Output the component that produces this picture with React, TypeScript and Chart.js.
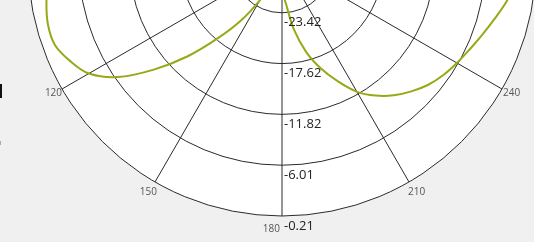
import React, { useEffect, useRef } from "react";
import { Chart, registerables } from "chart.js";

Chart.register(...registerables);

// Pattern sampled every 5 degrees (0..355), values in dB
const angles: number[] = [
  0, 5, 10, 15, 20, 25, 30, 35, 40, 45, 50, 55, 60, 65, 70, 75, 80, 85,
  90, 95, 100, 105, 110, 115, 120, 125, 130, 135, 140, 145, 150, 155, 160, 165, 170, 175,
  180, 185, 190, 195, 200, 205, 210, 215, 220, 225, 230, 235, 240, 245, 250, 255, 260, 265,
  270, 275, 280, 285, 290, 295, 300, 305, 310, 315, 320, 325, 330, 335, 340, 345, 350, 355,
];
const gainDb: number[] = [
  -10.0, -9.0, -9.5, -11.0, -14.0, -18.0, -22.0, -19.0, -14.0, -10.0, -7.5, -6.0, -5.2, -5.5, -7.0, -9.0, -8.0, -5.0,
  -3.2, -2.4, -1.9, -1.55, -1.6, -2.5, -3.75, -6.3, -10.1, -14.0, -17.9, -21.1, -24.2, -26.6, -28.4, -29.22, -28.7, -27.4,
  -26.0, -24.6, -21.4, -18.6, -16.3, -14.2, -12.1, -10.6, -9.35, -8.32, -7.41, -6.72, -6.15, -5.58, -4.89, -4.09, -3.18, -2.4,
  -1.8, -1.2, -0.7, -0.4, -0.21, -0.3, -0.7, -1.5, -2.8, -4.5, -7.0, -10.0, -14.0, -18.0, -21.0, -19.0, -15.0, -12.0,
];
const radialTicks: number[] = [-29.22, -23.42, -17.62, -11.82, -6.01, -0.21];
const tickLabels: string[] = ["-29.22", "-23.42", "-17.62", "-11.82", "-6.01", "-0.21"];
const angleLabelStep = 30;

// Chart.js radar goes clockwise from top; this chart goes counter-clockwise.
const chartAngles: number[] = angles.map((_, i) => (360 - angles[i]) % 360);
const chartValues: number[] = chartAngles.map((a) => gainDb[angles.indexOf(a)]);

const labelPlugin = {
  id: "polarLabels",
  afterDraw(chart: any) {
    const s = chart.scales.r;
    const ctx = chart.ctx;
    ctx.save();
    // radial tick labels along the 180 spoke
    ctx.font = '13px "Open Sans"';
    ctx.fillStyle = "#222222";
    ctx.textAlign = "left";
    ctx.textBaseline = "middle";
    s.ticks.forEach((t: any, i: number) => {
      const r = s.getDistanceFromCenterForValue(t.value);
      ctx.fillText(tickLabels[i], s.xCenter + 2, s.yCenter + r + 10);
    });
    // angle labels
    ctx.font = '10px "Open Sans"';
    ctx.fillStyle = "#555555";
    chartAngles.forEach((a, i) => {
      if (a % angleLabelStep !== 0) return;
      const p = s.getPointPosition(i, s.drawingArea);
      const rad = (a * Math.PI) / 180;
      let align = "center";
      let dx = 0;
      if (a > 0 && a <= 180) {
        align = "right";
        dx = a === 180 ? -2 : a === 150 ? 2 : 0;
      } else if (a > 180) {
        align = "left";
        dx = a === 210 ? -1 : 1;
      }
      const c = -Math.cos(rad);
      const dy = Math.sign(c) * 13 * Math.pow(Math.abs(c), 1.6);
      ctx.textAlign = align;
      ctx.fillText(String(a), p.x + dx, p.y + dy);
    });
    ctx.restore();
  },
};

export default function App() {
  const ref = useRef<HTMLCanvasElement | null>(null);
  useEffect(() => {
    if (!ref.current) return;
    const chart = new Chart(ref.current, {
      type: "radar",
      data: {
        labels: chartAngles.map(String),
        datasets: [
          {
            data: chartValues,
            borderColor: "#99A816",
            borderWidth: 2,
            pointRadius: 0,
            fill: false,
            tension: 0.35,
          },
        ],
      },
      options: {
        responsive: false,
        animation: false,
        layout: { padding: 20 },
        plugins: { legend: { display: false }, tooltip: { enabled: false } },
        scales: {
          r: {
            min: radialTicks[0],
            max: radialTicks[radialTicks.length - 1],
            backgroundColor: "#FFFFFF",
            afterBuildTicks: (scale: any) => {
              scale.ticks = radialTicks.map((v) => ({ value: v }));
            },
            ticks: { display: false },
            pointLabels: { display: false },
            grid: { circular: true, color: "#2a2a2a", lineWidth: 1 },
            angleLines: {
              color: "#2a2a2a",
              lineWidth: (c: any) => (chartAngles[c.index] % angleLabelStep === 0 ? 1 : 0),
            },
          },
        },
      },
      plugins: [labelPlugin],
    });
    return () => chart.destroy();
  }, []);

  return (
    <div
      style={{
        position: "fixed",
        left: 0,
        top: 0,
        width: 534,
        height: 242,
        overflow: "hidden",
        background: "#F0F0F0",
      }}
    >
      <canvas
        ref={ref}
        width={548}
        height={548}
        style={{ position: "absolute", left: 8, top: -312, width: 548, height: 548 }}
      />
      <div style={{ position: "absolute", left: 0, top: 84, width: 2, height: 14, background: "#111" }} />
      <div style={{ position: "absolute", left: 0, top: 141, width: 1, height: 4, background: "#aaa" }} />
    </div>
  );
}
